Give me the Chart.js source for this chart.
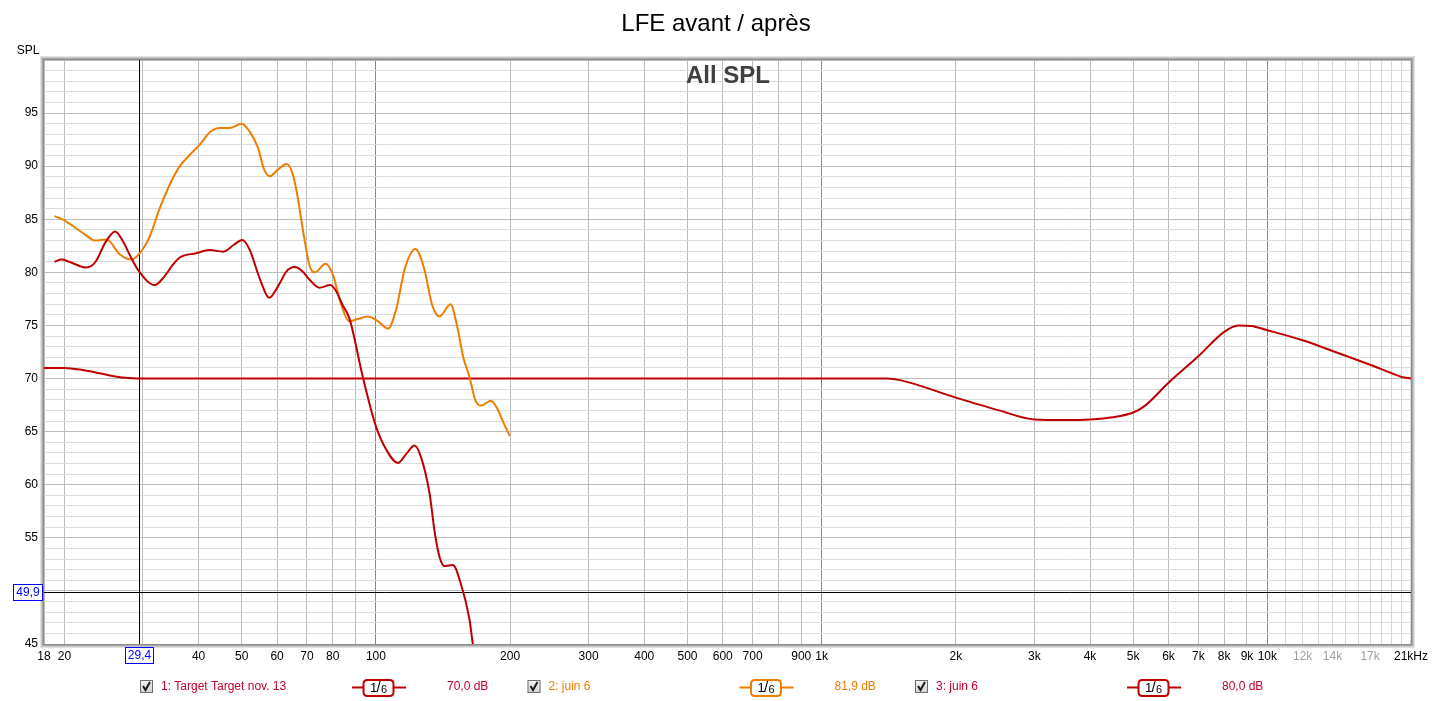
<!DOCTYPE html>
<html>
<head>
<meta charset="utf-8">
<script src="https://cdn.jsdelivr.net/npm/chart.js@4.4.1/dist/chart.umd.min.js"></script>
<style>
  html, body { margin: 0; padding: 0; background: #ffffff; }
  #wrap { position: relative; width: 1433px; height: 701px; }
</style>
</head>
<body>
<div id="wrap"><canvas id="c" width="1433" height="701"></canvas></div>
<script>
// ---------- DATA ----------
const chartTitle = "LFE avant / après";
const plotLabel = "All SPL";
const yAxisName = "SPL";

// Series 1: Target Target nov. 13
const targetFreq = [18, 20, 22, 24, 26, 28, 30, 1400, 1500, 2000, 2500, 3000, 3500, 4000, 4500, 5000, 5300, 6000, 7000, 8000, 8600, 9200, 10000, 12000, 14000, 17000, 19000, 20000, 21000];
const targetDb   = [71.0, 71.0, 70.8, 70.5, 70.2, 70.05, 70.0, 70.0, 69.85, 68.2, 67.0, 66.15, 66.1, 66.15, 66.35, 66.8, 67.4, 69.6, 72.1, 74.4, 75.0, 74.95, 74.55, 73.6, 72.6, 71.3, 70.5, 70.15, 70.0];

// Series 2: juin 6 (orange)
const juin2Freq = [19.0, 20, 21, 22.2, 23.4, 24.9, 26.6, 28.3, 30, 31.1, 32.7, 34.5, 36.3, 38.3, 40.2, 42.4, 44.7, 47, 50, 52, 54.3, 56, 57.8, 60, 63.1, 65, 66.4, 69.2, 71, 72.9, 77.1, 80, 83.5, 87, 91, 95.9, 101, 106.4, 111, 116, 122.6, 128, 134, 138.9, 147, 152, 157, 162, 167, 172, 181, 187, 193, 199.6];
const juin2Db   = [85.3, 84.9, 84.3, 83.6, 83.0, 83.1, 81.7, 81.2, 82.2, 83.4, 86.0, 88.3, 90.0, 91.1, 92.0, 93.2, 93.6, 93.6, 94.0, 93.3, 91.8, 89.8, 89.05, 89.6, 90.2, 89.3, 87.6, 83.0, 80.6, 80.0, 80.8, 79.8, 77.0, 75.4, 75.6, 75.85, 75.4, 74.7, 76.5, 80.3, 82.2, 80.5, 76.8, 75.85, 77.0, 75.0, 72.0, 70.2, 68.0, 67.45, 67.9, 67.2, 65.9, 64.6];

// Series 3: juin 6 (red)
const juin3Freq = [19.0, 19.7, 20.5, 22.4, 23.5, 24.7, 26, 27, 28.3, 29.4, 31.9, 33.5, 35, 36.3, 39.5, 42.4, 45.4, 48, 50.1, 52, 55, 57.6, 60.5, 63, 65.7, 68, 71, 74.7, 79, 81.5, 84, 87.3, 93.5, 100, 105.5, 112, 117, 122, 126, 131.9, 135.5, 138.9, 142.5, 148.8, 155, 162, 165, 170];
const juin3Db   = [81.0, 81.2, 81.0, 80.45, 81.0, 82.8, 83.85, 83.0, 81.3, 80.1, 78.8, 79.6, 80.7, 81.4, 81.8, 82.1, 81.95, 82.6, 83.05, 82.2, 79.3, 77.6, 78.8, 80.1, 80.5, 80.2, 79.3, 78.55, 78.8, 78.2, 77.0, 75.6, 70.1, 65.5, 63.3, 62.05, 62.9, 63.7, 62.7, 59.2, 55.5, 53.2, 52.35, 52.45, 50.7, 47.4, 45.0, 42.0];

// Axis ticks
const xGridValues = [18, 20, 30, 40, 50, 60, 70, 80, 90, 100, 200, 300, 400, 500, 600, 700, 800, 900, 1000, 2000, 3000, 4000, 5000, 6000, 7000, 8000, 9000, 10000, 11000, 12000, 13000, 14000, 15000, 16000, 17000, 18000, 19000, 20000, 21000];
const xTickValues = [18, 20, 40, 50, 60, 70, 80, 100, 200, 300, 400, 500, 600, 700, 900, 1000, 2000, 3000, 4000, 5000, 6000, 7000, 8000, 9000, 10000, 12000, 14000, 17000, 21000];
const xTickText   = ["18", "20", "40", "50", "60", "70", "80", "100", "200", "300", "400", "500", "600", "700", "900", "1k", "2k", "3k", "4k", "5k", "6k", "7k", "8k", "9k", "10k", "12k", "14k", "17k", "21kHz"];
const xTickGrey   = [12000, 14000, 17000];
const yMin = 45, yMax = 100;
const yTickValues = [45, 55, 60, 65, 70, 75, 80, 85, 90, 95];

// Cursor
const cursorX = 29.4, cursorXText = "29,4";
const cursorY = 49.9, cursorYText = "49,9";

// Legend
const legendNames  = ["1: Target Target nov. 13", "2: juin 6", "3: juin 6"];
const legendValues = ["70,0 dB", "81,9 dB", "80,0 dB"];
const legendSmooth = "1/6";

// ---------- STYLE ----------
const RED = "#bf0000";
const ORANGE = "#ef7d00";
const lineColors = [RED, ORANGE, RED];
const textColors = ["#c4002e", "#ef7d00", "#c4002e"];
const FONT = "'Liberation Sans', Arial, sans-serif";

function pts(fx, fy) { return fx.map((f, i) => ({ x: f, y: fy[i] })); }

const decorPlugin = {
  id: 'decor',
  beforeDatasetsDraw(chart) {
    const { ctx, chartArea: a, scales: { x, y } } = chart;
    ctx.save();
    ctx.fillStyle = "#404040";
    ctx.font = "bold 24px " + FONT;
    ctx.textAlign = "center";
    ctx.textBaseline = "alphabetic";
    ctx.fillText(plotLabel, 728, 83);
    ctx.strokeStyle = "#000000";
    ctx.lineWidth = 1;
    const cx = Math.round(x.getPixelForValue(cursorX)) + 0.5;
    const cy = Math.round(y.getPixelForValue(cursorY)) + 0.5;
    ctx.beginPath();
    ctx.moveTo(cx, a.top); ctx.lineTo(cx, a.bottom);
    ctx.moveTo(a.left, cy); ctx.lineTo(a.right, cy);
    ctx.stroke();
    ctx.restore();
  },
  afterDraw(chart) {
    const { ctx, chartArea: a, scales: { x, y } } = chart;
    ctx.save();
    // frame with shading
    const shades = ["#8c8c8c", "#a8a8a8", "#c8c8c8", "#e2e2e2"];
    shades.forEach((c, i) => {
      ctx.strokeStyle = c;
      ctx.lineWidth = 1;
      ctx.strokeRect(a.left - 0.5 - i, a.top - 0.5 - i, a.right - a.left + 1 + 2 * i, a.bottom - a.top + 1 + 2 * i);
    });
    // title
    ctx.fillStyle = "#000000";
    ctx.font = "24px " + FONT;
    ctx.textAlign = "center";
    ctx.textBaseline = "alphabetic";
    ctx.fillText(chartTitle, 716, 31);
    ctx.font = "12px " + FONT;
    ctx.fillText(yAxisName, 28, 54);
    // cursor boxes
    const cx = x.getPixelForValue(cursorX);
    const cy = y.getPixelForValue(cursorY);
    ctx.font = "12px " + FONT;
    ctx.textBaseline = "middle";
    let w = 28, h = 16;
    ctx.fillStyle = "#ffffff";
    ctx.fillRect(Math.round(cx - w / 2), 647, w, h);
    ctx.strokeStyle = "#0000ff";
    ctx.strokeRect(Math.round(cx - w / 2) + 0.5, 647.5, w, h);
    ctx.fillStyle = "#0000ff";
    ctx.fillText(cursorXText, Math.round(cx - w / 2) + w / 2 + 0.5, 656);
    w = 29;
    ctx.fillStyle = "#ffffff";
    ctx.fillRect(13, Math.round(cy) - 8, w, h);
    ctx.strokeStyle = "#0000ff";
    ctx.strokeRect(13.5, Math.round(cy) - 7.5, w, h);
    ctx.fillStyle = "#0000ff";
    ctx.fillText(cursorYText, 13 + w / 2 + 0.5, Math.round(cy) + 0.5);

    // legend
    const base = [140, 527.5, 915];
    const ly = 687;
    base.forEach((bx, i) => {
      const g = ctx.createLinearGradient(0, ly - 7, 0, ly + 7);
      g.addColorStop(0, "#f4f4f4"); g.addColorStop(1, "#cfcfcf");
      ctx.fillStyle = g;
      ctx.fillRect(bx, ly - 7, 13, 13);
      ctx.strokeStyle = "#6e6e6e";
      ctx.lineWidth = 1;
      ctx.strokeRect(bx + 0.5, ly - 6.5, 12, 12);
      ctx.strokeStyle = "#1a1a1a";
      ctx.lineWidth = 2;
      ctx.beginPath();
      ctx.moveTo(bx + 3, ly - 1); ctx.lineTo(bx + 5.5, ly + 3); ctx.lineTo(bx + 10, ly - 5);
      ctx.stroke();
      ctx.font = "12px " + FONT;
      ctx.textAlign = "left";
      ctx.textBaseline = "middle";
      ctx.fillStyle = textColors[i];
      ctx.fillText(legendNames[i], bx + 21, ly);
      ctx.strokeStyle = lineColors[i];
      ctx.lineWidth = 2;
      ctx.beginPath();
      ctx.moveTo(bx + 212, ly + 0.5); ctx.lineTo(bx + 266, ly + 0.5);
      ctx.stroke();
      const rx = bx + 223.5, ry = ly - 7, rw = 30, rh = 16, r = 4;
      ctx.beginPath();
      ctx.moveTo(rx + r, ry);
      ctx.lineTo(rx + rw - r, ry); ctx.quadraticCurveTo(rx + rw, ry, rx + rw, ry + r);
      ctx.lineTo(rx + rw, ry + rh - r); ctx.quadraticCurveTo(rx + rw, ry + rh, rx + rw - r, ry + rh);
      ctx.lineTo(rx + r, ry + rh); ctx.quadraticCurveTo(rx, ry + rh, rx, ry + rh - r);
      ctx.lineTo(rx, ry + r); ctx.quadraticCurveTo(rx, ry, rx + r, ry);
      ctx.closePath();
      ctx.fillStyle = "#ffffff";
      ctx.fill();
      ctx.stroke();
      ctx.fillStyle = "#000000";
      ctx.textAlign = "center";
      ctx.font = "13px " + FONT;
      ctx.fillText(legendSmooth.charAt(0), rx + 10, ly + 1);
      ctx.font = "15px " + FONT;
      ctx.fillText(legendSmooth.charAt(1), rx + 15, ly + 1);
      ctx.font = "11px " + FONT;
      ctx.fillText(legendSmooth.charAt(2), rx + 20.5, ly + 3);
      ctx.font = "12px " + FONT;
      ctx.textAlign = "left";
      ctx.fillStyle = textColors[i];
      ctx.fillText(legendValues[i], bx + 307, ly);
    });
    ctx.restore();
  }
};

new Chart(document.getElementById('c'), {
  type: 'line',
  data: {
    datasets: [
      { label: legendNames[2], data: pts(juin3Freq, juin3Db), borderColor: RED, borderWidth: 2, pointRadius: 0, cubicInterpolationMode: 'monotone', order: 1 },
      { label: legendNames[1], data: pts(juin2Freq, juin2Db), borderColor: ORANGE, borderWidth: 2, pointRadius: 0, cubicInterpolationMode: 'monotone', order: 2 },
      { label: legendNames[0], data: pts(targetFreq, targetDb), borderColor: RED, borderWidth: 2, pointRadius: 0, cubicInterpolationMode: 'monotone', order: 3 }
    ]
  },
  options: {
    responsive: false,
    animation: false,
    events: [],
    layout: { padding: { left: 0, right: 22, top: 60, bottom: 37 } },
    plugins: { legend: { display: false }, title: { display: false }, tooltip: { enabled: false } },
    scales: {
      x: {
        type: 'logarithmic',
        min: 18, max: 21000,
        afterBuildTicks: (s) => { s.ticks = xGridValues.map(v => ({ value: v })); },
        afterFit: (s) => { s.height = 20; },
        border: { display: false },
        grid: {
          drawTicks: false,
          lineWidth: 1,
          color: (c) => {
            const v = c.tick ? c.tick.value : 0;
            if (v === 100 || v === 1000 || v === 10000) return "#878787";
            if (v > 10000) return "#d6d6d6";
            return "#bcbcbc";
          }
        },
        ticks: {
          autoSkip: false, maxRotation: 0, minRotation: 0, padding: 5,
          font: { family: FONT, size: 12 },
          color: (c) => xTickGrey.includes(c.tick.value) ? "#a0a0a0" : "#000000",
          callback: (v) => { const i = xTickValues.indexOf(v); return i >= 0 ? xTickText[i] : ''; }
        }
      },
      y: {
        type: 'linear',
        min: yMin, max: yMax,
        afterBuildTicks: (s) => { const t = []; for (let v = yMin; v <= yMax; v++) t.push({ value: v }); s.ticks = t; },
        afterFit: (s) => { s.width = 44; },
        border: { display: false },
        grid: {
          drawTicks: false,
          lineWidth: 1,
          color: (c) => (c.tick && c.tick.value % 5 === 0) ? "#bcbcbc" : "#dcdcdc"
        },
        ticks: {
          autoSkip: false, padding: 6,
          font: { family: FONT, size: 12 },
          color: "#000000",
          callback: (v) => yTickValues.includes(v) ? String(v) : ''
        }
      }
    }
  },
  plugins: [decorPlugin]
});
</script>
</body>
</html>
